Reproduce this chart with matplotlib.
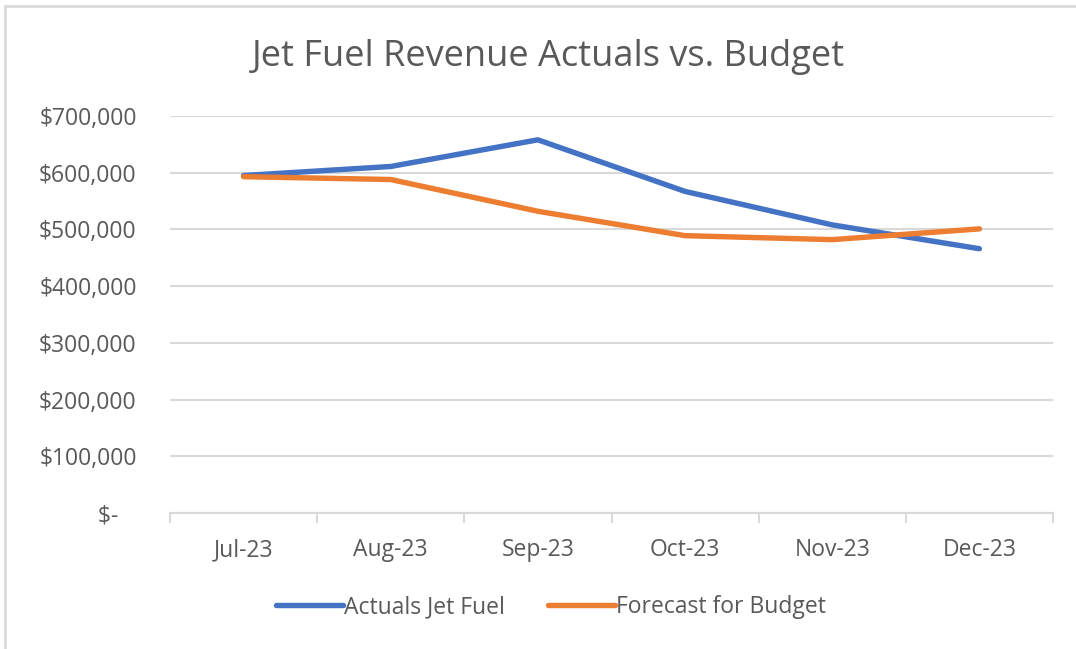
import matplotlib
matplotlib.use("Agg")
import matplotlib.pyplot as plt
from matplotlib.patches import Rectangle
from matplotlib.ticker import FuncFormatter

months = ["Jul-23", "Aug-23", "Sep-23", "Oct-23", "Nov-23", "Dec-23"]
actuals = [595000, 611000, 658000, 567000, 508000, 466000]
forecast = [593000, 588000, 532000, 489000, 482000, 501000]

BLUE = "#4472C4"
ORANGE = "#ED7D31"
TXT = "#595959"
GRID = "#D9D9D9"

plt.rcParams['font.family'] = ['Open Sans', 'DejaVu Sans']

fig = plt.figure(figsize=(10.76, 6.49), dpi=100)
ax = fig.add_axes([170/1076, 1 - 513/649, (1053-170)/1076, (513-116)/649])

x = list(range(len(months)))
ax.plot(x, actuals, color=BLUE, lw=3.9, solid_capstyle='round', solid_joinstyle='round',
        label="Actuals Jet Fuel", zorder=3)
ax.plot(x, forecast, color=ORANGE, lw=3.9, solid_capstyle='round', solid_joinstyle='round',
        label="Forecast for Budget", zorder=3)

ax.set_xlim(-0.5, len(months) - 0.5)
ax.set_ylim(0, 700000)
ax.set_yticks(range(0, 700001, 100000))


def money(v, pos):
    if v == 0:
        return "$-   "
    return "${:,.0f}".format(v)


ax.yaxis.set_major_formatter(FuncFormatter(money))
ax.set_xticks(x)
ax.set_xticklabels(months)
ax.set_xticks([i - 0.5 for i in range(len(months) + 1)], minor=True)

ax.grid(axis='y', color=GRID, lw=1.5, zorder=0)
for s in ['top', 'right', 'left']:
    ax.spines[s].set_visible(False)
ax.spines['bottom'].set_color(GRID)
ax.spines['bottom'].set_linewidth(1.5)

ax.tick_params(axis='y', length=0, pad=24, labelsize=16.5, labelcolor=TXT)
ax.tick_params(axis='x', which='major', length=0, pad=18, labelsize=16.5, labelcolor=TXT)
ax.tick_params(axis='x', which='minor', length=7, width=1.5, color=GRID)

fig.text(548/1076, 1 - 57/649, "Jet Fuel Revenue Actuals vs. Budget", ha='center', va='center',
         fontsize=26, color=TXT)

leg = fig.legend(loc='center', bbox_to_anchor=(551/1076, 1 - 607/649), ncol=2, frameon=False,
                 fontsize=16.5, labelcolor=TXT, handlelength=2.9, handletextpad=0.05,
                 columnspacing=1.9)

fig.patches.append(Rectangle((5/1076, -0.05), 1.2, 1 - 5.5/649 + 0.05, transform=fig.transFigure,
                             fill=False, edgecolor=GRID, lw=2, zorder=0))

fig.savefig("out.png", dpi=100)
